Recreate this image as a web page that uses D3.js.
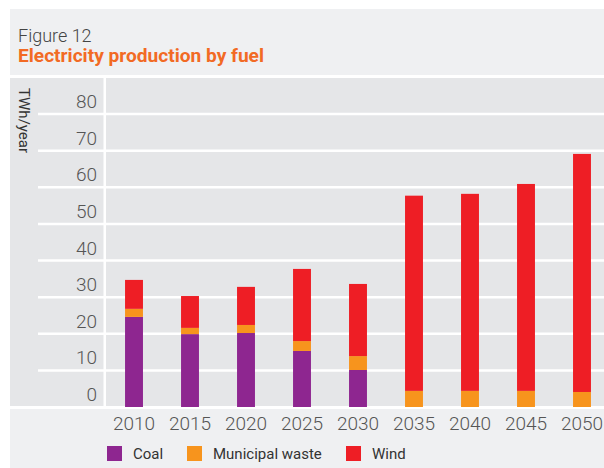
<!DOCTYPE html>
<html>
<head>
<meta charset="utf-8">
<script src="https://cdn.jsdelivr.net/npm/d3@7"></script>
<style>
body { margin: 0; background: #fff; }
svg { display: block; font-family: Roboto, "Open Sans", sans-serif; }
</style>
</head>
<body>
<div id="vis"></div>
<script>
var width = 604,
	height = 468;

// values, TWh/year
var years = ["2010", "2015", "2020", "2025", "2030", "2035", "2040", "2045", "2050"];
var coal = [24.6, 19.9, 20.2, 15.3, 10.1, 0, 0, 0, 0];
var waste = [2.2, 1.7, 2.2, 2.7, 3.8, 4.4, 4.4, 4.4, 4.1];
var wind = [7.9, 8.7, 10.4, 19.7, 19.7, 53.3, 53.8, 56.5, 65.0];
var yTicks = [0, 10, 20, 30, 40, 50, 60, 70, 80];

var fuels = ["Coal", "Municipal waste", "Wind"];
var fuelColors = ["#8e2690", "#f7941d", "#ee1e25"];

var rows = years.map(function(y, i) {
	return { year: y, "Coal": coal[i], "Municipal waste": waste[i], "Wind": wind[i] };
});

var svg = d3.select('#vis')
	.append('svg')
	.attr('width', width)
	.attr('height', height);

// backgrounds
svg.append('rect').attr('x', 10).attr('y', 9).attr('width', width - 10).attr('height', height - 9).attr('fill', '#eff0f2');
svg.append('rect').attr('x', 10).attr('y', 78).attr('width', width - 10).attr('height', 328).attr('fill', '#e5e6e8');
svg.append('rect').attr('x', 10).attr('y', 75).attr('width', width - 10).attr('height', 3).attr('fill', '#fff');
svg.append('rect').attr('x', 10).attr('y', 406).attr('width', width - 10).attr('height', 3).attr('fill', '#fff');
svg.append('rect').attr('x', 103.5).attr('y', 78).attr('width', 2.5).attr('height', 328).attr('fill', '#fff');

// titles
svg.append('text')
	.attr('x', 18).attr('y', 42)
	.attr('fill', '#444')
	.style('font-size', '18px')
	.style('font-weight', 300)
	.text('Figure 12');

svg.append('text')
	.attr('x', 18).attr('y', 62)
	.attr('fill', '#f26a24')
	.style('font-size', '19px')
	.style('font-weight', 700)
	.attr('textLength', 246)
	.attr('lengthAdjust', 'spacingAndGlyphs')
	.text('Electricity production by fuel');

var x = d3.scaleBand()
	.domain(years)
	.range([112, 604])
	.paddingInner(0.68)
	.paddingOuter(0.233);

var y = d3.scaleLinear()
	.domain([0, 80])
	.range([407, 114]);

// gridlines
svg.append('g')
	.selectAll('line')
	.data(yTicks.filter(function(d) { return d > 0; }))
	.enter()
	.append('line')
	.attr('x1', 38)
	.attr('x2', width)
	.attr('y1', function(d) { return y(d); })
	.attr('y2', function(d) { return y(d); })
	.attr('stroke', '#fff')
	.attr('stroke-width', 2.5);

// y labels sit just above their line
svg.append('g')
	.selectAll('text')
	.data(yTicks)
	.enter()
	.append('text')
	.attr('x', 97)
	.attr('y', function(d) { return y(d) - 6; })
	.attr('text-anchor', 'end')
	.attr('fill', '#555')
	.style('font-size', '19px')
	.style('font-weight', 300)
	.text(function(d) { return d; });

svg.append('text')
	.attr('transform', 'translate(19,88) rotate(90)')
	.attr('fill', '#333')
	.style('font-size', '15px')
	.text('TWh/year');

// bars
var stack = d3.stack().keys(fuels)(rows);

svg.append('g')
	.selectAll('g')
	.data(stack)
	.enter()
	.append('g')
	.attr('fill', function(d, i) { return fuelColors[i]; })
	.selectAll('rect')
	.data(function(d) { return d; })
	.enter()
	.append('rect')
	.attr('x', function(d) { return x(d.data.year); })
	.attr('width', x.bandwidth())
	.attr('y', function(d) { return y(d[1]); })
	.attr('height', function(d) { return y(d[0]) - y(d[1]); });

// x labels
svg.append('g')
	.selectAll('text')
	.data(years)
	.enter()
	.append('text')
	.attr('x', function(d) { return x(d) + x.bandwidth() / 2; })
	.attr('y', 430)
	.attr('text-anchor', 'middle')
	.attr('fill', '#555')
	.style('font-size', '19px')
	.style('font-weight', 300)
	.text(function(d) { return d; });

// legend
var legendX = [107, 187, 346];
var legend = svg.append('g')
	.selectAll('g')
	.data(fuels)
	.enter()
	.append('g')
	.attr('transform', function(d, i) { return 'translate(' + legendX[i] + ',446)'; });

legend.append('rect')
	.attr('width', 15)
	.attr('height', 15)
	.attr('fill', function(d, i) { return fuelColors[i]; });

legend.append('text')
	.attr('x', 26)
	.attr('y', 13)
	.attr('fill', '#333')
	.style('font-size', '15px')
	.text(function(d) { return d; });
</script>
</body>
</html>
